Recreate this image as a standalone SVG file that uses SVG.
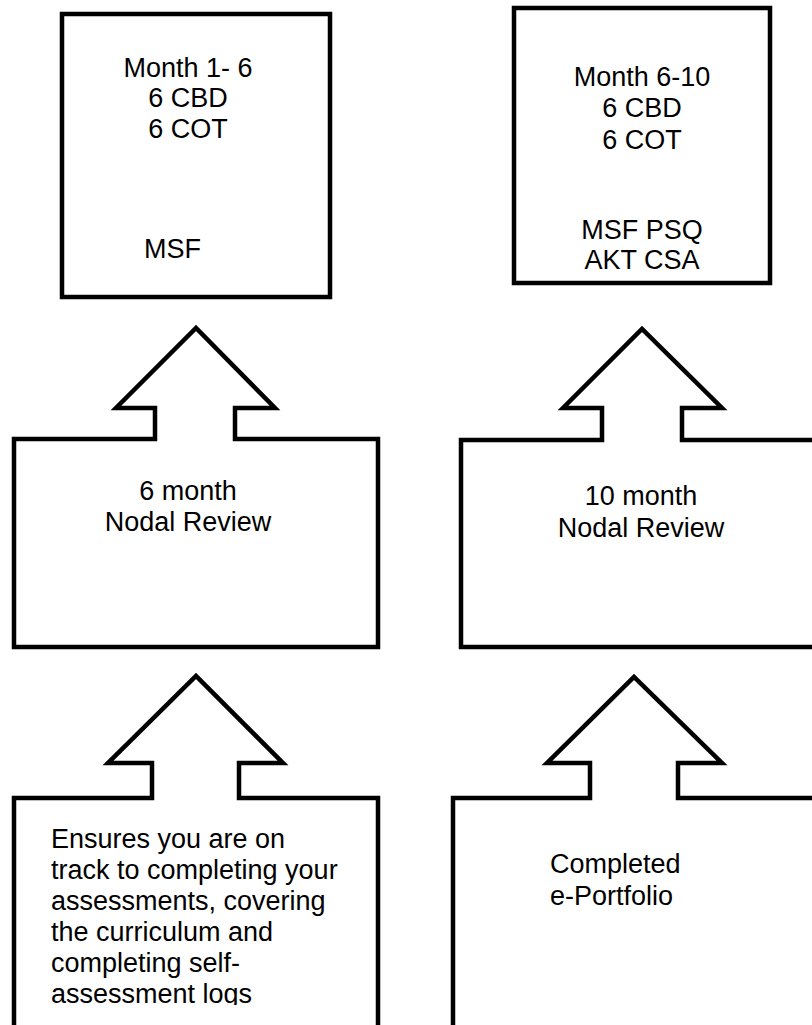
<svg xmlns="http://www.w3.org/2000/svg" width="812" height="1025" viewBox="0 0 812 1025">
<style>
.shape{fill:#fff;stroke:#000;stroke-width:4.5;stroke-linejoin:miter}
text{font-family:"Liberation Sans",Arial,sans-serif;font-size:27px;fill:#000}
.c{text-anchor:middle}
</style>
<defs>
<clipPath id="clipBL"><rect x="20" y="800" width="352" height="205"/></clipPath>
</defs>
<rect width="812" height="1025" fill="#fff"/>
<g id="box-month1-6">
<rect class="shape" x="62" y="14" width="268" height="283"/>
<text class="c" x="188" y="77">Month 1- 6</text>
<text class="c" x="188" y="107">6 CBD</text>
<text class="c" x="188" y="138">6 COT</text>
<text x="144" y="258">MSF</text>
</g>
<g id="box-month6-10">
<rect class="shape" x="514" y="8" width="256" height="275"/>
<text class="c" x="642" y="86">Month 6-10</text>
<text class="c" x="642" y="117">6 CBD</text>
<text class="c" x="642" y="149">6 COT</text>
<text class="c" x="642" y="239">MSF PSQ</text>
<text class="c" x="642" y="269">AKT CSA</text>
</g>
<g id="review6">
<path class="shape" d="M14,439 H155 V408 H116 L196,328 L275,408 H235 V439 H378 V647 H14 Z"/>
<text class="c" x="188" y="500">6 month</text>
<text class="c" x="188" y="531">Nodal Review</text>
</g>
<g id="review10">
<path class="shape" d="M461,440 H602 V408 H563 L642,329 L722,408 H682 V440 H830 V647 H461 Z"/>
<text class="c" x="641" y="505">10 month</text>
<text class="c" x="641" y="537">Nodal Review</text>
</g>
<g id="ensures">
<path class="shape" d="M14,798 H152 V763 H108 L196,676 L283,763 H239 V798 H378 V1045 H14 Z"/>
<g clip-path="url(#clipBL)">
<text x="51" y="848">Ensures you are on</text>
<text x="51" y="879">track to completing your</text>
<text x="51" y="910">assessments, covering</text>
<text x="51" y="941">the curriculum and</text>
<text x="51" y="972">completing self-</text>
<text x="51" y="1003">assessment logs</text>
</g>
</g>
<g id="eportfolio">
<path class="shape" d="M453,798 H590 V763 H547 L634,677 L722,763 H678 V798 H830 V1045 H453 Z"/>
<text x="550" y="873">Completed</text>
<text x="550" y="905">e-Portfolio</text>
</g>
<g id="connectors"/>
</svg>
